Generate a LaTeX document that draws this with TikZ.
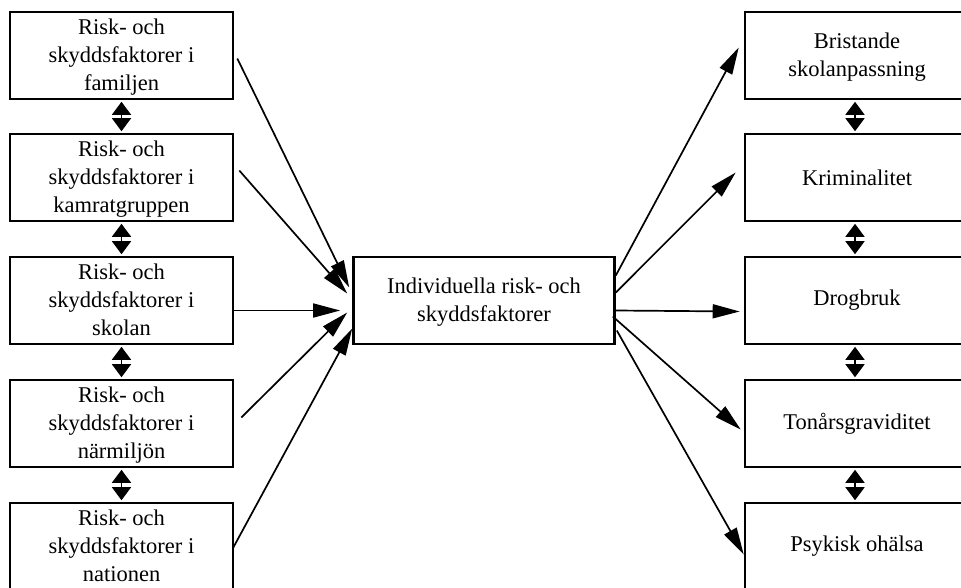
\documentclass[tikz,border=0pt]{standalone}
\usepackage{fontspec}
\setmainfont{Liberation Serif}
\usetikzlibrary{arrows.meta,calc}
\newcommand\mltext[1]{\raisebox{-1.5pt}[\height][\depth]{\begin{tabular}{@{}c@{}}#1\end{tabular}}}
\begin{document}
\begin{tikzpicture}[x=1pt,y=-1pt,
  box/.style={draw,line width=2.6pt,minimum width=223pt,minimum height=87pt,
    inner sep=0pt,font=\fontsize{22.5}{28}\selectfont},
  rbox/.style={box,minimum width=224pt},
  mbox/.style={box,minimum width=261pt},
  conn/.style={line width=1.7pt,-{Triangle[length=27pt,width=14pt]}},
  link/.style={line width=1.7pt,{Triangle[length=13pt,width=19pt]}-{Triangle[length=13pt,width=19pt]}}]
\useasboundingbox (0,0) rectangle (961,587);
\clip (0,0) rectangle (961,587);
% left boxes
\node[box] (l1) at (121.5,55.5) {\mltext{Risk- och\\skyddsfaktorer i\\familjen}};
\node[box] (l2) at (121.5,177.5) {\mltext{Risk- och\\skyddsfaktorer i\\kamratgruppen}};
\node[box] (l3) at (121.5,300.5) {\mltext{Risk- och\\skyddsfaktorer i\\skolan}};
\node[box] (l4) at (121.5,423.5) {\mltext{Risk- och\\skyddsfaktorer i\\närmiljön}};
\node[box] (l5) at (121.5,546.5) {\mltext{Risk- och\\skyddsfaktorer i\\nationen}};
% middle
\node[mbox] (m) at (484,300.5) {\mltext{Individuella risk- och\\skyddsfaktorer}};
% right boxes
\node[rbox] (r1) at (857,55.5) {\mltext{Bristande\\skolanpassning}};
\node[rbox] (r2) at (857,177.5) {Kriminalitet};
\node[rbox] (r3) at (857,300.5) {Drogbruk};
\node[rbox] (r4) at (857,423.5) {Tonårsgraviditet};
\node[rbox] (r5) at (857,546.5) {Psykisk ohälsa};
% left vertical links
\foreach \a/\b in {l1/l2,l2/l3,l3/l4,l4/l5}{
  \draw[link] ($(\a.south)+(0,1.5)$) -- ($(\b.north)+(0,-1.5)$);
}
\foreach \a/\b in {r1/r2,r2/r3,r3/r4,r4/r5}{
  \draw[link] ($(\a.south)+(-2,1.5)$) -- ($(\b.north)+(-2,-1.5)$);
}
% left arrows
\draw[conn] ($(l1.east)+(3,3)$) -- ($(m.west)+(-3,-13)$);
\draw[conn] ($(l2.east)+(5,-7)$) -- ($(m.west)+(-5,-7)$);
\draw[conn] ($(l3.east)+(-2,10)$) -- ($(m.west)+(-12,10)$);
\draw[conn] ($(l4.east)+(7,-6)$) -- ($(m.west)+(-5,12)$);
\draw[conn] ($(l5.east)+(-1,1)$) -- ($(m.west)+(0,28)$);
% right arrows
\draw[conn] ($(m.east)+(0,-25)$) -- ($(r1.west)+(-5,-8)$);
\draw[conn] ($(m.east)+(0,-8)$) -- ($(r2.west)+(-8,-5)$);
\draw[conn] ($(m.east)+(0,10)$) -- ($(r3.west)+(-4,11)$);
\draw[conn] ($(m.east)+(-3,16)$) -- ($(r4.west)+(-3,6)$);
\draw[conn] ($(m.east)+(1,30)$) -- ($(r5.west)+(0,8)$);
\end{tikzpicture}
\end{document}
